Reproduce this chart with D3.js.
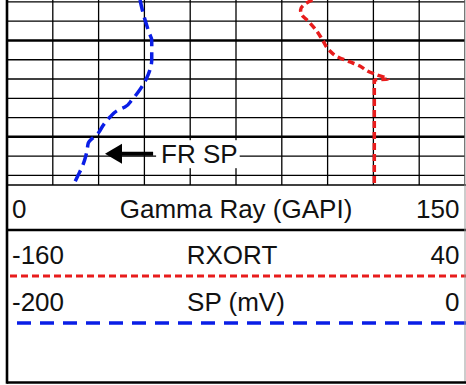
<!DOCTYPE html>
<html>
<head>
<meta charset="utf-8">
<script src="https://cdn.jsdelivr.net/npm/d3@7"></script>
<style>
  html, body { margin: 0; padding: 0; background: #fff; }
  svg { display: block; }
  text { font-family: "Liberation Sans", Arial, sans-serif; fill: #111; }
</style>
</head>
<body>
<svg id="chart" width="466" height="385"></svg>
<script>
// ---------------- data ----------------
const depthTop = 4995.8;
const depthBottom = 5015.0;
const gridMinorStep = 2;     // ft
const gridMajorStep = 10;    // ft

const gammaLabels = ["0", "Gamma Ray (GAPI)", "150"];
const gammaDomain = [0, 150];
const gammaGridStep = 15;

const rxortLabels = ["-160", "RXORT", "40"];
const rxortDomain = [-160, 40];

const spLabels = ["-200", "SP (mV)", "0"];
const spDomain = [-200, 0];

// SP curve (blue)
const spDepth = [4995.80, 4996.84, 4997.88, 4999.22, 4999.95, 5002.03, 5003.07, 5004.10, 5005.35, 5006.18, 5006.91, 5007.22, 5007.94, 5008.77, 5009.60, 5010.64, 5011.37, 5012.41, 5013.13, 5013.96, 5015.00];
const spValue = [-141.9, -140.9, -139.7, -137.9, -136.8, -136.8, -137.6, -139.4, -142.7, -145.5, -148.5, -151.4, -155.0, -157.9, -160.1, -164.5, -165.0, -166.1, -167.2, -168.9, -171.0];

// RXORT curve (red)
const rxDepth = [4995.80, 4996.22, 4996.84, 4997.36, 4997.88, 4998.91, 4999.95, 5000.99, 5001.72, 5002.23, 5002.65, 5003.17, 5003.58, 5004.00, 5004.10, 5015.00];
const rxValue = [-26.6, -29.9, -31.8, -31.2, -29.0, -25.1, -22.2, -19.4, -15.5, -10.2, -5.9, -2.6, 1.6, 6.4, 0.4, 0.4];

// annotation
const annoLabel = "FR SP";
const annoDepth = 5011.75;
const annoTipSP = -157.2;
const annoTailSP = -136.2;

// ---------------- layout ----------------
const svg = d3.select("#chart");
const W = 466, H = 385;
const left = 7, right = 465;
const trackTop = 0, trackBottom = 185;
const headerBottom = 382.5;

svg.append("rect").attr("width", W).attr("height", H).attr("fill", "#fff");

const y = d3.scaleLinear().domain([depthTop, depthBottom]).range([trackTop, trackBottom]);
const xGR = d3.scaleLinear().domain(gammaDomain).range([left, right]);
const xRX = d3.scaleLinear().domain(rxortDomain).range([left, right]);
const xSP = d3.scaleLinear().domain(spDomain).range([left, right]);

svg.append("defs").append("clipPath").attr("id", "trackClip")
  .append("rect").attr("x", left).attr("y", trackTop)
  .attr("width", right - left).attr("height", trackBottom - trackTop);

const track = svg.append("g").attr("clip-path", "url(#trackClip)");

// horizontal grid
const hDepths = d3.range(Math.ceil(depthTop / gridMinorStep) * gridMinorStep, depthBottom, gridMinorStep);
track.selectAll("line.h").data(hDepths).join("line")
  .attr("x1", left).attr("x2", right)
  .attr("y1", d => y(d)).attr("y2", d => y(d))
  .attr("stroke", "#000")
  .attr("stroke-width", d => (Math.abs(d % gridMajorStep) < 1e-6) ? 2.6 : 1.3);

// vertical grid (10 divisions of the gamma ray scale)
const vTicks = d3.range(gammaDomain[0] + gammaGridStep, gammaDomain[1] + 0.1, gammaGridStep);
track.selectAll("line.v").data(vTicks).join("line")
  .attr("x1", d => xGR(d)).attr("x2", d => xGR(d))
  .attr("y1", trackTop).attr("y2", trackBottom)
  .attr("stroke", "#000").attr("stroke-width", 1.3);

// curves
const spLine = d3.line().curve(d3.curveMonotoneY)
  .x((d, i) => xSP(spValue[i])).y(d => y(d));
track.append("path").datum(spDepth)
  .attr("d", spLine).attr("fill", "none")
  .attr("stroke", "#0a1ee6").attr("stroke-width", 3.5)
  .attr("stroke-dasharray", "12,6");

const rxLine = d3.line().curve(d3.curveMonotoneY)
  .x((d, i) => xRX(rxValue[i])).y(d => y(d));
track.append("path").datum(rxDepth)
  .attr("d", rxLine).attr("fill", "none")
  .attr("stroke", "#e81c1c").attr("stroke-width", 3.5)
  .attr("stroke-dasharray", "7,4");

// annotation
const ay = y(annoDepth);
const tipX = xSP(annoTipSP), tailX = xSP(annoTailSP);
const annoG = svg.append("g");
const annoText = annoG.append("text")
  .attr("x", tailX + 8).attr("y", ay + 9.5)
  .attr("font-size", 26).text(annoLabel);
const bb = annoText.node().getBBox();
annoG.insert("rect", "text")
  .attr("x", tailX + 3).attr("y", bb.y + 1)
  .attr("width", bb.width + 7).attr("height", bb.height - 2)
  .attr("fill", "#fff");
annoG.append("line")
  .attr("x1", tailX).attr("x2", tipX + 14)
  .attr("y1", ay).attr("y2", ay)
  .attr("stroke", "#000").attr("stroke-width", 4);
annoG.append("path")
  .attr("d", `M${tipX},${ay} L${tipX + 17},${ay - 10} L${tipX + 17},${ay + 10} Z`)
  .attr("fill", "#000");

// track bottom line
svg.append("line").attr("x1", left).attr("x2", W)
  .attr("y1", trackBottom).attr("y2", trackBottom)
  .attr("stroke", "#000").attr("stroke-width", 1.3);

// header
const rowGR = 218, rowRX = 264, rowSP = 311;
function headerRow(labels, baseY, midX) {
  const g = svg.append("g");
  g.append("text").attr("x", 12).attr("y", baseY).attr("font-size", 26).text(labels[0]);
  g.append("text").attr("x", midX).attr("y", baseY).attr("font-size", 26)
    .attr("text-anchor", "middle").text(labels[1]);
  g.append("text").attr("x", 459.5).attr("y", baseY).attr("font-size", 26)
    .attr("text-anchor", "end").text(labels[2]);
}
headerRow(gammaLabels, rowGR, 236);
headerRow(rxortLabels, rowRX, 232);
headerRow(spLabels, rowSP, 236);

// divider between gamma ray and resistivity rows
svg.append("line").attr("x1", left).attr("x2", W)
  .attr("y1", 230).attr("y2", 230)
  .attr("stroke", "#000").attr("stroke-width", 2.6);

// legend lines
svg.append("line").attr("x1", 10).attr("x2", W)
  .attr("y1", 276).attr("y2", 276)
  .attr("stroke", "#e81c1c").attr("stroke-width", 3)
  .attr("stroke-dasharray", "7,4");
svg.append("line").attr("x1", 17).attr("x2", W)
  .attr("y1", 323).attr("y2", 323)
  .attr("stroke", "#0a1ee6").attr("stroke-width", 3.4)
  .attr("stroke-dasharray", "14,9");

// borders
svg.append("line").attr("x1", left).attr("x2", left)
  .attr("y1", 0).attr("y2", headerBottom + 1.3)
  .attr("stroke", "#000").attr("stroke-width", 2.6);
svg.append("line").attr("x1", right).attr("x2", right)
  .attr("y1", 0).attr("y2", headerBottom)
  .attr("stroke", "#999").attr("stroke-width", 1);
svg.append("line").attr("x1", left).attr("x2", W)
  .attr("y1", headerBottom).attr("y2", headerBottom)
  .attr("stroke", "#000").attr("stroke-width", 2.6);
</script>
</body>
</html>
